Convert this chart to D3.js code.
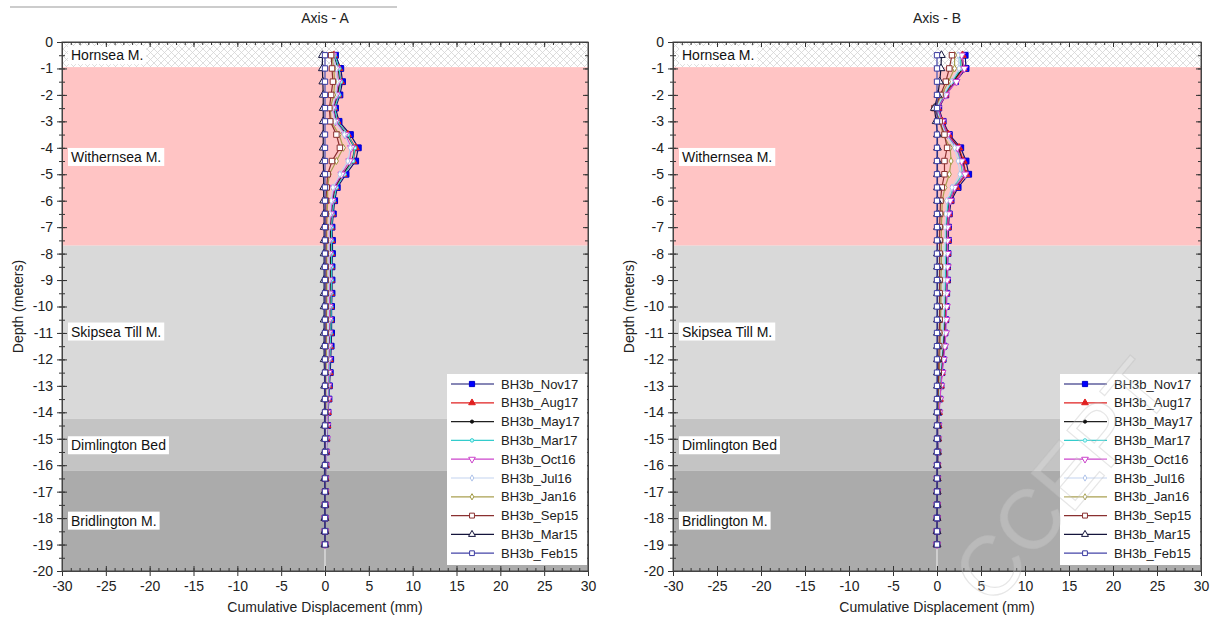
<!DOCTYPE html>
<html>
<head>
<meta charset="utf-8">
<script src="https://cdn.jsdelivr.net/npm/d3@7"></script>
<style>
  body { margin: 0; background: #fff; }
  svg { display: block; font-family: "Liberation Sans", Arial, sans-serif; }
</style>
</head>
<body>
<svg id="chart" width="1220" height="626"></svg>
<script>
// ---- Inclinometer readings: cumulative displacement (mm) vs depth (m) ----
const depths = [-0.5,-1,-1.5,-2,-2.5,-3,-3.5,-4,-4.5,-5,
  -5.5,-6,-6.5,-7,-7.5,-8,-8.5,-9,-9.5,-10,
  -10.5,-11,-11.5,-12,-12.5,-13,-13.5,-14,-14.5,-15,
  -15.5,-16,-16.5,-17,-17.5,-18,-18.5,-19];

const seriesNames = ["BH3b_Nov17","BH3b_Aug17","BH3b_May17","BH3b_Mar17","BH3b_Oct16",
  "BH3b_Jul16","BH3b_Jan16","BH3b_Sep15","BH3b_Mar15","BH3b_Feb15"];

// Axis A
const nov17A = [1.2,1.8,2.0,1.7,1.2,1.6,2.9,3.8,3.5,2.4, 1.4,1.1,0.95,0.8,0.85,0.85,0.8,0.8,0.8,0.75, 0.75,0.75,0.7,0.65,0.6,0.5,0.45,0.35,0.3,0.2, 0.15,0.1,0.05,0.05,0.03,0.02,0.01,0];
const aug17A = [1.0,1.6,1.8,1.5,1.0,1.4,2.6,3.5,3.2,2.1, 1.2,0.9,0.8,0.65,0.7,0.7,0.65,0.65,0.65,0.6, 0.6,0.6,0.55,0.5,0.5,0.4,0.35,0.3,0.25,0.15, 0.1,0.08,0.05,0.04,0.03,0.02,0.01,0];
const may17A = [1.0,1.5,1.7,1.4,1.0,1.3,2.5,3.4,3.1,2.0, 1.1,0.9,0.75,0.6,0.65,0.65,0.6,0.6,0.6,0.55, 0.55,0.55,0.5,0.45,0.45,0.35,0.3,0.25,0.2,0.15, 0.1,0.07,0.05,0.04,0.03,0.02,0.01,0];
const mar17A = [1.1,1.6,1.8,1.6,1.1,1.4,2.6,3.4,3.2,2.2, 1.3,1.0,0.85,0.75,0.75,0.75,0.75,0.75,0.7,0.7, 0.7,0.65,0.6,0.55,0.5,0.45,0.4,0.3,0.25,0.2, 0.15,0.1,0.05,0.04,0.03,0.02,0.01,0];
const oct16A = [0.9,1.3,1.5,1.3,0.9,1.2,2.3,3.0,2.8,1.9, 1.0,0.8,0.65,0.5,0.5,0.5,0.5,0.5,0.5,0.5, 0.5,0.45,0.45,0.45,0.4,0.35,0.35,0.3,0.25,0.2, 0.15,0.1,0.05,0.04,0.03,0.02,0.01,0];
const jul16A = [0.9,1.3,1.4,1.2,0.8,1.1,2.2,2.9,2.6,1.7, 0.9,0.7,0.55,0.45,0.45,0.45,0.45,0.45,0.4,0.4, 0.4,0.4,0.35,0.35,0.3,0.3,0.25,0.2,0.2,0.15, 0.1,0.08,0.05,0.03,0.02,0.02,0.01,0];
const jan16A = [0.8,1.0,1.1,1.0,0.6,0.7,1.6,2.1,1.3,0.5, 0.3,0.3,0.25,0.2,0.2,0.2,0.2,0.2,0.2,0.2, 0.15,0.15,0.15,0.15,0.1,0.1,0.1,0.1,0.05,0.05, 0.05,0.03,0.02,0.02,0.01,0.01,0,0];
const sep15A = [0.7,0.8,0.9,0.7,0.5,0.6,1.3,1.7,0.8,0.3, 0.2,0.1,0.1,0.1,0.1,0.1,0.1,0.1,0.1,0.1, 0.1,0.1,0.05,0.05,0.05,0.05,0.05,0.05,0.03,0.03, 0.02,0.02,0.01,0.01,0,0,0,0];
const mar15A = [-0.3,-0.3,-0.25,-0.2,-0.2,-0.2,-0.2,-0.2,-0.2,-0.15, -0.15,-0.15,-0.1,-0.1,-0.1,-0.1,-0.1,-0.1,-0.1,-0.1, -0.1,-0.1,-0.1,-0.1,-0.05,-0.05,-0.05,-0.05,-0.05,-0.05, -0.05,-0.05,-0.05,-0.03,-0.03,-0.02,-0.01,0];
const feb15A = [0,0,0,0,0,0,0,0,0,0, 0,0,0,0,0,0,0,0,0,0, 0,0,0,0,0,0,0,0,0,0, 0,0,0,0,0,0,0,0];

// Axis B
const nov17B = [3.2,3.3,2.1,1.0,0.2,0.7,1.4,2.7,3.3,3.6, 2.4,1.6,1.4,1.3,1.3,1.25,1.2,1.2,1.1,1.05, 1.0,0.9,0.8,0.7,0.55,0.45,0.3,0.2,0.15,0.1, 0.1,0.05,0.05,0.05,0.03,0.02,0.01,0];
const aug17B = [2.9,3.0,1.9,0.9,0.1,0.6,1.3,2.5,3.0,3.3, 2.2,1.5,1.3,1.2,1.2,1.15,1.1,1.1,1.0,0.95, 0.9,0.8,0.7,0.6,0.5,0.4,0.3,0.2,0.15,0.1, 0.08,0.05,0.04,0.03,0.02,0.02,0.01,0];
const may17B = [2.8,2.9,1.8,0.8,0.1,0.5,1.2,2.4,2.9,3.2, 2.1,1.4,1.2,1.1,1.1,1.1,1.05,1.0,0.95,0.9, 0.85,0.75,0.65,0.55,0.45,0.35,0.25,0.2,0.15,0.1, 0.08,0.05,0.04,0.03,0.02,0.02,0.01,0];
const mar17B = [2.6,2.7,1.7,0.8,0.0,0.5,1.1,2.2,2.7,2.9, 1.9,1.3,1.1,1.0,1.0,1.0,0.95,0.95,0.9,0.85, 0.8,0.7,0.6,0.5,0.4,0.3,0.25,0.2,0.15,0.1, 0.07,0.05,0.04,0.03,0.02,0.01,0.01,0];
const oct16B = [2.8,3.1,2.2,1.0,0.1,0.6,1.2,2.3,2.8,3.2, 2.0,1.5,1.3,1.2,1.2,1.2,1.2,1.15,1.1,1.1, 1.05,1.0,0.9,0.75,0.6,0.45,0.35,0.25,0.15,0.1, 0.08,0.05,0.04,0.03,0.02,0.02,0.01,0];
const jul16B = [2.4,2.5,1.6,0.7,-0.1,0.4,1.0,2.0,2.4,2.6, 1.7,1.1,1.0,0.9,0.9,0.85,0.85,0.8,0.8,0.75, 0.7,0.65,0.55,0.45,0.35,0.3,0.2,0.15,0.1,0.08, 0.05,0.04,0.03,0.02,0.02,0.01,0.01,0];
const jan16B = [2.0,2.0,1.3,0.5,-0.2,0.3,0.7,1.5,1.6,1.4, 0.9,0.6,0.55,0.5,0.5,0.5,0.5,0.45,0.45,0.45, 0.4,0.4,0.35,0.3,0.25,0.2,0.15,0.1,0.1,0.05, 0.05,0.04,0.03,0.02,0.01,0.01,0,0];
const sep15B = [1.7,1.4,1.0,0.4,-0.3,0.3,0.85,1.15,0.85,0.85, 0.55,0.4,0.35,0.3,0.3,0.3,0.3,0.3,0.3,0.3, 0.3,0.25,0.25,0.2,0.2,0.15,0.1,0.1,0.05,0.05, 0.05,0.03,0.02,0.02,0.01,0.01,0,0];
const mar15B = [0.5,0.45,0.3,0.1,-0.3,-0.1,0.05,0.05,0.05,0.05, 0.05,0.05,0.05,0.05,0.05,0.05,0.05,0.05,0.05,0.05, 0.05,0.05,0.05,0.05,0.05,0.05,0.05,0.03,0.03,0.03, 0.03,0.03,0.02,0.02,0.02,0.01,0.01,0];
const feb15B = [0,0,0,0,0,0,0,0,0,0, 0,0,0,0,0,0,0,0,0,0, 0,0,0,0,0,0,0,0,0,0, 0,0,0,0,0,0,0,0];

// Geological units (depth ranges in m)
const strataNames  = ["Hornsea M.","Withernsea M.","Skipsea Till M.","Dimlington Bed","Bridlington M."];
const strataTop    = [0, -0.95, -7.7, -14.25, -16.2];
const strataBottom = [-0.95, -7.7, -14.25, -16.2, -20];
const strataLabelDepth = [-0.5, -4.35, -10.95, -15.25, -18.1];

// Axis ticks
const xTickLabels = [-30,-25,-20,-15,-10,-5,0,5,10,15,20,25,30];
const yTickLabels = [0,-1,-2,-3,-4,-5,-6,-7,-8,-9,-10,-11,-12,-13,-14,-15,-16,-17,-18,-19,-20];

// ---- styling ----
const strataFill = ["url(#hatch)", "#ffc4c4", "#d9d9d9", "#c4c4c4", "#ababab"];
const seriesLine = ["#10106e","#e02020","#202020","#33cccc","#cc44cc","#c4d4f0","#aaa050","#8a3030","#14143c","#4444a8"];
const seriesMark = [
  {type: d3.symbolSquare,   size: 34, fill: "#0000ff", stroke: "#0000cc", rot: 0},
  {type: d3.symbolTriangle, size: 24, fill: "#e02020", stroke: "#e02020", rot: 0},
  {type: d3.symbolCircle,   size: 10, fill: "#111",    stroke: "#111",    rot: 0},
  {type: d3.symbolCircle,   size: 12, fill: "#bff",    stroke: "#33cccc", rot: 0},
  {type: d3.symbolTriangle, size: 24, fill: "#fff",    stroke: "#cc44cc", rot: 180},
  {type: d3.symbolDiamond,  size: 14, fill: "#fff",    stroke: "#b0c4ea", rot: 0},
  {type: d3.symbolDiamond,  size: 14, fill: "#fff",    stroke: "#a09840", rot: 0},
  {type: d3.symbolSquare,   size: 30, fill: "#fff",    stroke: "#8a3030", rot: 0},
  {type: d3.symbolTriangle, size: 26, fill: "#fff",    stroke: "#14143c", rot: 0},
  {type: d3.symbolSquare,   size: 28, fill: "#fff",    stroke: "#3a3aa0", rot: 0}
];

const svg = d3.select("#chart");
const defs = svg.append("defs");
const hatch = defs.append("pattern").attr("id", "hatch")
  .attr("patternUnits", "userSpaceOnUse").attr("width", 7).attr("height", 7);
hatch.append("rect").attr("width", 7).attr("height", 7).attr("fill", "#fff");
hatch.append("path").attr("d", "M0,0L7,7M7,0L0,7")
  .attr("stroke", "#d4d4d4").attr("stroke-width", 0.8);

// thin rule across the top-left of the page
svg.append("line").attr("x1", 10).attr("x2", 397).attr("y1", 7).attr("y2", 7)
  .attr("stroke", "#9a9a9a").attr("stroke-width", 1.2);

function drawPanel(opts) {
  const x = d3.scaleLinear().domain([-30, 30]).range([opts.left, opts.right]);
  const y = d3.scaleLinear().domain([0, -20]).range([42, 571]);
  const g = svg.append("g");
  const x0 = x.range()[0], x1 = x.range()[1], y0 = y.range()[0], y1 = y.range()[1];

  // strata bands
  g.selectAll("rect.band").data(strataNames).join("rect")
    .attr("x", x0).attr("width", x1 - x0)
    .attr("y", (d, i) => y(strataTop[i]))
    .attr("height", (d, i) => y(strataBottom[i]) - y(strataTop[i]))
    .attr("fill", (d, i) => strataFill[i]);

  // zero reference line
  g.append("line").attr("x1", x(0)).attr("x2", x(0)).attr("y1", y0).attr("y2", y1)
    .attr("stroke", "#f2f2f2").attr("stroke-width", 1);

  // stratum labels in white boxes
  strataNames.forEach((name, i) => {
    const lg = g.append("g");
    const t = lg.append("text").attr("x", x0 + 9).attr("y", y(strataLabelDepth[i]))
      .attr("dy", "0.35em").attr("font-size", 14).attr("fill", "#111").text(name);
    const bb = t.node().getBBox();
    lg.insert("rect", "text").attr("x", x0 + 6).attr("y", bb.y - 1)
      .attr("width", bb.width + 6).attr("height", bb.height + 2).attr("fill", "#fff");
  });

  // profiles
  const line = d3.line().x(d => x(d.v)).y(d => y(d.d));
  opts.series.forEach((vals, si) => {
    const pts = vals.map((v, i) => ({v: v, d: depths[i]}));
    g.append("path").datum(pts).attr("d", line)
      .attr("fill", "none").attr("stroke", seriesLine[si]).attr("stroke-width", 1.2);
    const m = seriesMark[si];
    const sym = d3.symbol().type(m.type).size(m.size);
    g.append("g").selectAll("path").data(pts).join("path")
      .attr("d", sym)
      .attr("transform", d => `translate(${x(d.v)},${y(d.d)}) rotate(${m.rot})`)
      .attr("fill", m.fill).attr("stroke", m.stroke).attr("stroke-width", 1);
  });

  // axes
  const fmt = d => String(d);
  const xMinor = d3.range(-30, 31, 1);
  const yMinor = d3.range(0, -20.01, -0.5);
  const axG = g.append("g").attr("color", "#333");
  const bottom = axG.append("g").attr("transform", `translate(0,${y1})`);
  bottom.call(d3.axisBottom(x).tickValues(xTickLabels).tickSize(5).tickPadding(5).tickFormat(fmt));
  bottom.append("g").call(d3.axisBottom(x).tickValues(xTickLabels).tickSize(-5).tickFormat(""));
  bottom.append("g").call(d3.axisBottom(x).tickValues(xMinor).tickSize(-3).tickFormat(""));
  const top = axG.append("g").attr("transform", `translate(0,${y0})`);
  top.call(d3.axisTop(x).tickValues(xTickLabels).tickSize(-5).tickFormat(""));
  top.append("g").call(d3.axisTop(x).tickValues(xMinor).tickSize(-3).tickFormat(""));
  const leftAx = axG.append("g").attr("transform", `translate(${x0},0)`);
  leftAx.call(d3.axisLeft(y).tickValues(yTickLabels).tickSize(5).tickPadding(4).tickFormat(fmt));
  leftAx.append("g").call(d3.axisLeft(y).tickValues(yTickLabels).tickSize(-5).tickFormat(""));
  leftAx.append("g").call(d3.axisLeft(y).tickValues(yMinor).tickSize(3).tickFormat(""));
  leftAx.append("g").call(d3.axisLeft(y).tickValues(yMinor).tickSize(-3).tickFormat(""));
  const rightAx = axG.append("g").attr("transform", `translate(${x1},0)`);
  rightAx.call(d3.axisRight(y).tickValues(yTickLabels).tickSize(-5).tickFormat(""));
  rightAx.append("g").call(d3.axisRight(y).tickValues(yMinor).tickSize(-3).tickFormat(""));
  axG.selectAll(".domain").attr("stroke", "#444");
  axG.selectAll("text").attr("font-size", 14).attr("fill", "#222")
    .attr("font-family", "'Liberation Sans', Arial, sans-serif");

  // frame
  g.append("rect").attr("x", x0).attr("y", y0).attr("width", x1 - x0).attr("height", y1 - y0)
    .attr("fill", "none").attr("stroke", "#444").attr("stroke-width", 1);

  // titles
  g.append("text").attr("x", x(0)).attr("y", 23).attr("text-anchor", "middle")
    .attr("font-size", 14).attr("fill", "#222").text(opts.title);
  g.append("text").attr("x", x(0)).attr("y", 612).attr("text-anchor", "middle")
    .attr("font-size", 14).attr("fill", "#222").text("Cumulative Displacement (mm)");
  g.append("text").attr("transform", `translate(${x0 - 39},${(y0 + y1) / 2}) rotate(-90)`)
    .attr("text-anchor", "middle").attr("font-size", 14).attr("fill", "#222").text("Depth (meters)");

  // legend
  const lx = x1 - 141, ly = 374, rowH = 18.8;
  const leg = g.append("g").attr("transform", `translate(${lx},${ly})`);
  leg.append("rect").attr("width", 140).attr("height", 191).attr("fill", "#fff");
  seriesNames.forEach((name, si) => {
    const ry = 10 + si * rowH;
    leg.append("line").attr("x1", 4).attr("x2", 47).attr("y1", ry).attr("y2", ry)
      .attr("stroke", seriesLine[si]).attr("stroke-width", 1.2);
    const m = seriesMark[si];
    leg.append("path").attr("d", d3.symbol().type(m.type).size(m.size * 0.8)())
      .attr("transform", `translate(25,${ry}) rotate(${m.rot})`)
      .attr("fill", m.fill).attr("stroke", m.stroke).attr("stroke-width", 1);
    leg.append("text").attr("x", 54).attr("y", ry).attr("dy", "0.35em")
      .attr("font-size", 13).attr("fill", "#222").text(name);
  });
  return g;
}

drawPanel({left: 62, right: 588, title: "Axis - A",
  series: [nov17A, aug17A, may17A, mar17A, oct16A, jul16A, jan16A, sep15A, mar15A, feb15A]});
drawPanel({left: 673, right: 1201, title: "Axis - B",
  series: [nov17B, aug17B, may17B, mar17B, oct16B, jul16B, jan16B, sep15B, mar15B, feb15B]});

// faint diagonal watermark over the right panel
svg.append("text")
  .attr("transform", "translate(1062,481) rotate(-50)")
  .attr("text-anchor", "middle").attr("dominant-baseline", "central")
  .attr("font-size", 84).attr("font-family", "'Liberation Sans', Arial, sans-serif")
  .attr("fill", "#ffffff").attr("fill-opacity", 0.18)
  .attr("stroke", "#b8b8b8").attr("stroke-opacity", 0.35).attr("stroke-width", 1.2)
  .text("CCEPT");
</script>
</body>
</html>
